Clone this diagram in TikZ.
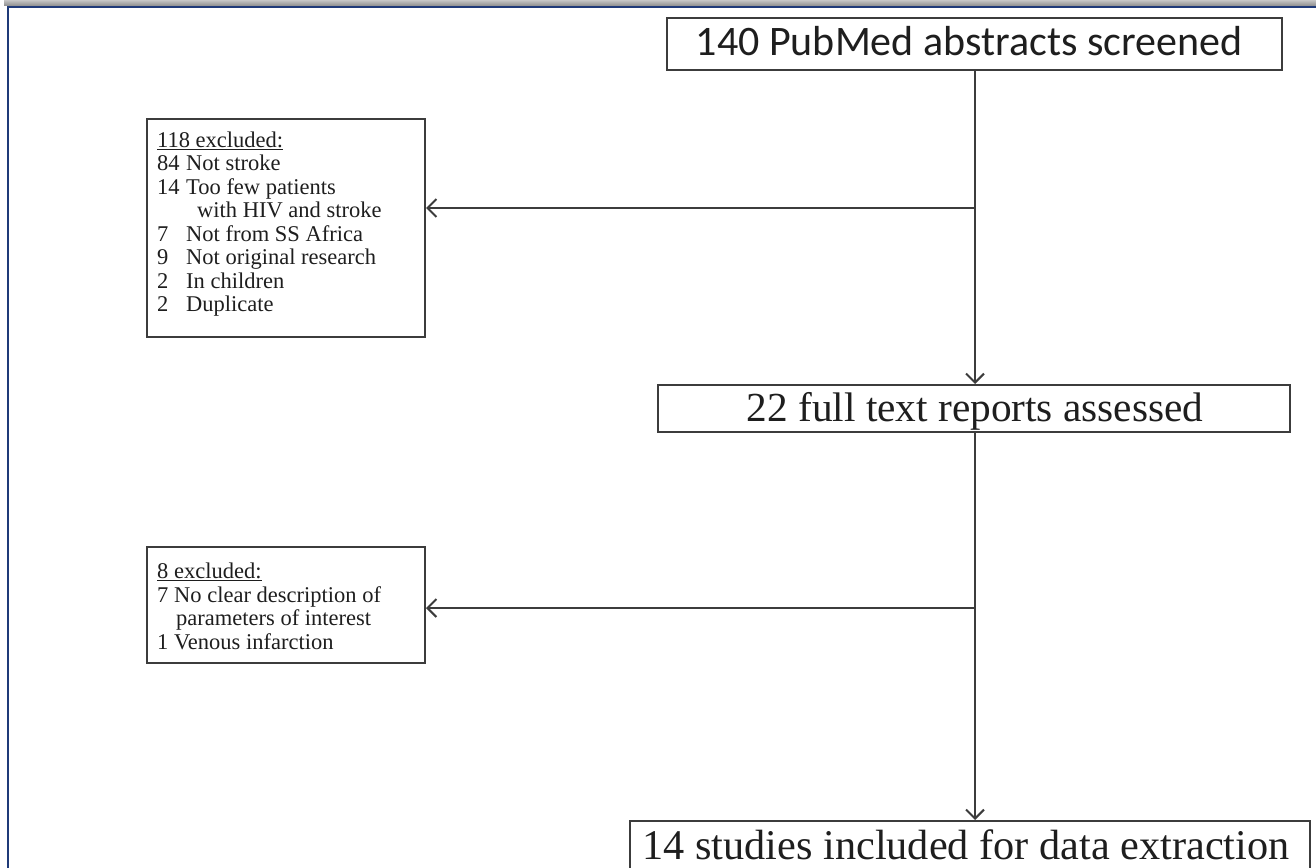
\documentclass[tikz,border=0pt]{standalone}
\usepackage{fontspec}
\setmainfont{Liberation Serif}
\newfontfamily\calib{Carlito}
\usetikzlibrary{arrows.meta,calc}
\definecolor{frameblue}{HTML}{1F3A78}
\definecolor{linegray}{HTML}{3C3C3C}
\definecolor{txt}{HTML}{1E1E1E}
\begin{document}
\begin{tikzpicture}[x=1pt,y=-1pt,
  box/.style={draw=linegray,line width=2pt,inner sep=0pt,fill=white},
  flow/.style={draw=linegray,line width=2.2pt,-{Straight Barb[length=9pt,width=18pt,line width=2pt]}},
  small/.style={anchor=base west,inner sep=0pt,font=\fontsize{22.5}{24}\selectfont,text=txt}]
\useasboundingbox (0,0) rectangle (1316,867);
\clip (0,0) rectangle (1316,867);
% frame
\shade[top color=gray!45,bottom color=gray!90] (4,0) rectangle (1316,6);
\draw[frameblue,line width=2.4pt] (8,880) -- (8,7) -- (1320,7);
% main boxes
\node[box,minimum width=615pt,minimum height=52pt] (b1) at (974.5,44) {};
\node[anchor=base,inner sep=0pt,text=txt,font=\calib\fontsize{42}{44}\selectfont] (t1) at (969,56) {140 PubMed abstracts screened};
\node[box,minimum width=632pt,minimum height=47pt] (b2) at (974,408.5) {};
\node[anchor=base,inner sep=0pt,text=txt,font=\fontsize{41.3}{44}\selectfont] (t2) at (975,421) {22 full text reports assessed};
\node[box,minimum width=680pt,minimum height=70pt] (b3) at (970,856) {};
\node[anchor=base,inner sep=0pt,text=txt,font=\fontsize{42.3}{44}\selectfont] (t3) at (966,859) {14 studies included for data extraction};
% exclusion boxes
\node[box,minimum width=278pt,minimum height=218pt] (e1) at (286,228) {};
\node[box,minimum width=278pt,minimum height=116pt] (e2) at (286,605) {};
% text of exclusion box 1
\node[small] (l1) at (157,147) {\underline{118 excluded:}};
\node[small] (l2) at (157,170.5) {\makebox[29pt][l]{84}Not stroke};
\node[small] (l3) at (157,194) {\makebox[29pt][l]{14}Too few patients};
\node[small] (l4) at (157,217.5) {\hspace*{40pt}with HIV and stroke};
\node[small] (l5) at (157,241) {\makebox[29pt][l]{7}Not from SS Africa};
\node[small] (l6) at (157,264.5) {\makebox[29pt][l]{9}Not original research};
\node[small] (l7) at (157,288) {\makebox[29pt][l]{2}In children};
\node[small] (l8) at (157,311.5) {\makebox[29pt][l]{2}Duplicate};
% text of exclusion box 2
\node[small] (m1) at (157,578.5) {\underline{8 excluded:}};
\node[small] (m2) at (157,602) {\makebox[17pt][l]{7}No clear description of};
\node[small] (m3) at (157,625.5) {\hspace*{19pt}parameters of interest};
\node[small] (m4) at (157,649) {\makebox[17pt][l]{1}Venous infarction};
% connectors
\coordinate (j1) at (975,208);
\coordinate (j2) at (975,608);
\draw[flow] (b1.south -| j1) -- (b2.north -| j1);
\draw[flow] (j1) -- (j1 -| e1.east);
\draw[flow] (b2.south -| j2) -- (b3.north -| j2);
\draw[flow] (j2) -- (j2 -| e2.east);
\end{tikzpicture}
\end{document}
